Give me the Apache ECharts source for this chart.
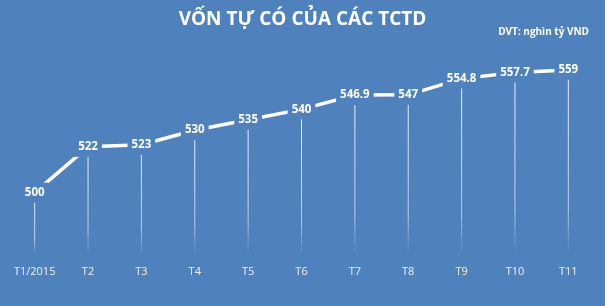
<!DOCTYPE html>
<html><head><meta charset="utf-8">
<script src="https://cdn.jsdelivr.net/npm/echarts@6/dist/echarts.min.js"></script>
<style>html,body{margin:0;padding:0;background:#4f81bd;}#c{width:605px;height:306px;}</style>
</head><body><div id="c"></div>
<script>
const categories = ['T1/2015','T2','T3','T4','T5','T6','T7','T8','T9','T10','T11'];
const values = [500, 522, 523, 530, 535, 540, 546.9, 547, 554.8, 557.7, 559];
const titleText = 'VỐN TỰ CÓ CỦA CÁC TCTD';
const unitText = 'DVT: nghìn tỷ VND';

const chart = echarts.init(document.getElementById('c'), null, {renderer:'canvas'});
const bg = '#4f81bd';
chart.setOption({
  backgroundColor: bg,
  animation: false,
  title: [
    {text: titleText, left: 'center', top: 5, textStyle:{color:'#fff', fontFamily:'Open Sans', fontWeight:'bold', fontSize:19}},
    {text: unitText, right: 11, top: 22, textStyle:{color:'#fff', fontFamily:'Open Sans', fontWeight:'bold', fontSize:10}}
  ],
  grid: {left: 8, right: 10, top: 47, bottom: 51},
  xAxis: {type:'category', data: categories, boundaryGap: true,
    axisLine:{show:false}, axisTick:{show:false},
    axisLabel:{interval:0, color:'#eef2f8', fontFamily:'Open Sans', fontSize:11, margin:11}},
  yAxis: {type:'value', min:470, max:570, show:false, splitLine:{show:false}},
  series: [
    {type:'bar', data: values, barWidth: 1, silent:true, z:1,
     itemStyle:{color: new echarts.graphic.LinearGradient(0,0,0,1,[{offset:0,color:'rgba(255,255,255,0.9)'},{offset:0.75,color:'rgba(255,255,255,0.6)'},{offset:1,color:'rgba(255,255,255,0)'}])}},
    {type:'line', data: values, z:3, symbol:'circle', symbolSize:2, showSymbol:true,
     itemStyle:{color:'rgba(255,255,255,0)'},
     lineStyle:{color:'#fff', width:3.5},
     labelLayout:{hideOverlap:false},
     label:{show:true, position:'inside', color:'#fff', fontFamily:'Open Sans', fontWeight:'bold', fontSize:11.5,
       backgroundColor:bg, padding:[3,4,5,4]}}
  ]
});
</script></body></html>
